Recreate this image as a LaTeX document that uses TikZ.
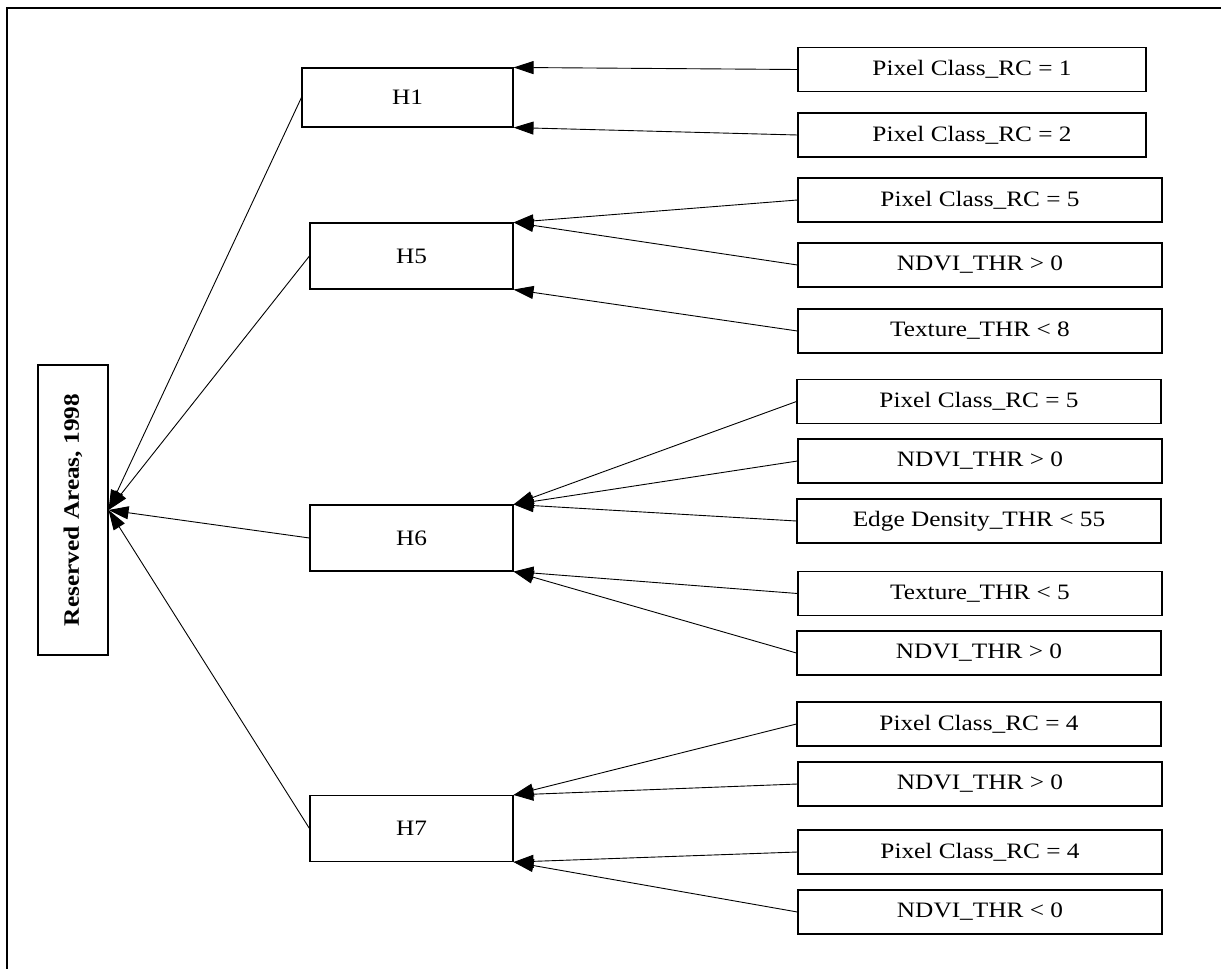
\documentclass[tikz,border=0pt]{standalone}
\usepackage{fontspec}
\setmainfont{Liberation Serif}[FakeStretch=1.15]
\usepackage{tikz}
\usetikzlibrary{arrows.meta}

\begin{document}
\begin{tikzpicture}[x=1pt,y=-1pt,
  box/.style={draw,line width=1.1pt,inner sep=0pt,font=\fontsize{22}{26}\selectfont},
  cond/.style={box,minimum width=364pt,minimum height=44pt},
  hyp/.style={box,minimum width=203pt,minimum height=66pt},
  edge/.style={line width=0.9pt,-{Triangle[length=20pt,width=13pt]}}]
  \useasboundingbox (0,0) rectangle (1221,969);
  % frame
  \draw[line width=2pt] (7,969) -- (7,8) -- (1221,8);
  % goal
  \node[box,minimum width=70pt,minimum height=290pt] (root) at (73,510)
    {\rotatebox{90}{\bfseries Reserved Areas, 1998}};
  % hypotheses
  \node[hyp,minimum width=211pt,minimum height=59pt] (h1) at (407.5,97.5) {H1};
  \node[hyp] (h5) at (411.5,256) {H5};
  \node[hyp] (h6) at (411.5,538) {H6};
  \node[hyp] (h7) at (411.5,828.5) {H7};
  % conditions of H1
  \node[cond,minimum width=348pt] (c1a) at (972,69.5) {Pixel Class\_RC = 1};
  \node[cond,minimum width=348pt] (c1b) at (972,135) {Pixel Class\_RC = 2};
  % conditions of H5
  \node[cond] (c5a) at (980,200) {Pixel Class\_RC = 5};
  \node[cond] (c5b) at (980,265) {NDVI\_THR > 0};
  \node[cond] (c5c) at (980,331) {Texture\_THR < 8};
  % conditions of H6
  \node[cond] (c6a) at (979,401.5) {Pixel Class\_RC = 5};
  \node[cond] (c6b) at (980,461) {NDVI\_THR > 0};
  \node[cond] (c6c) at (979,521) {Edge Density\_THR < 55};
  \node[cond] (c6d) at (980,593.5) {Texture\_THR < 5};
  \node[cond] (c6e) at (979,653) {NDVI\_THR > 0};
  % conditions of H7
  \node[cond] (c7a) at (979,724) {Pixel Class\_RC = 4};
  \node[cond] (c7b) at (980,784) {NDVI\_THR > 0};
  \node[cond] (c7c) at (980,852) {Pixel Class\_RC = 4};
  \node[cond] (c7d) at (980,912) {NDVI\_THR < 0};
  % edges into the hypotheses
  \draw[edge] (c1a.west) -- (h1.north east);
  \draw[edge] (c1b.west) -- (h1.south east);
  \foreach \c in {c5a,c5b} \draw[edge] (\c.west) -- (h5.north east);
  \draw[edge] (c5c.west) -- (h5.south east);
  \foreach \c in {c6a,c6b,c6c} \draw[edge] (\c.west) -- (h6.north east);
  \foreach \c in {c6d,c6e} \draw[edge] (\c.west) -- (h6.south east);
  \foreach \c in {c7a,c7b} \draw[edge] (\c.west) -- (h7.north east);
  \foreach \c in {c7c,c7d} \draw[edge] (\c.west) -- (h7.south east);
  % edges into the goal
  \foreach \h in {h1,h5,h6,h7} \draw[edge] (\h.west) -- (root.east);
\end{tikzpicture}
\end{document}
